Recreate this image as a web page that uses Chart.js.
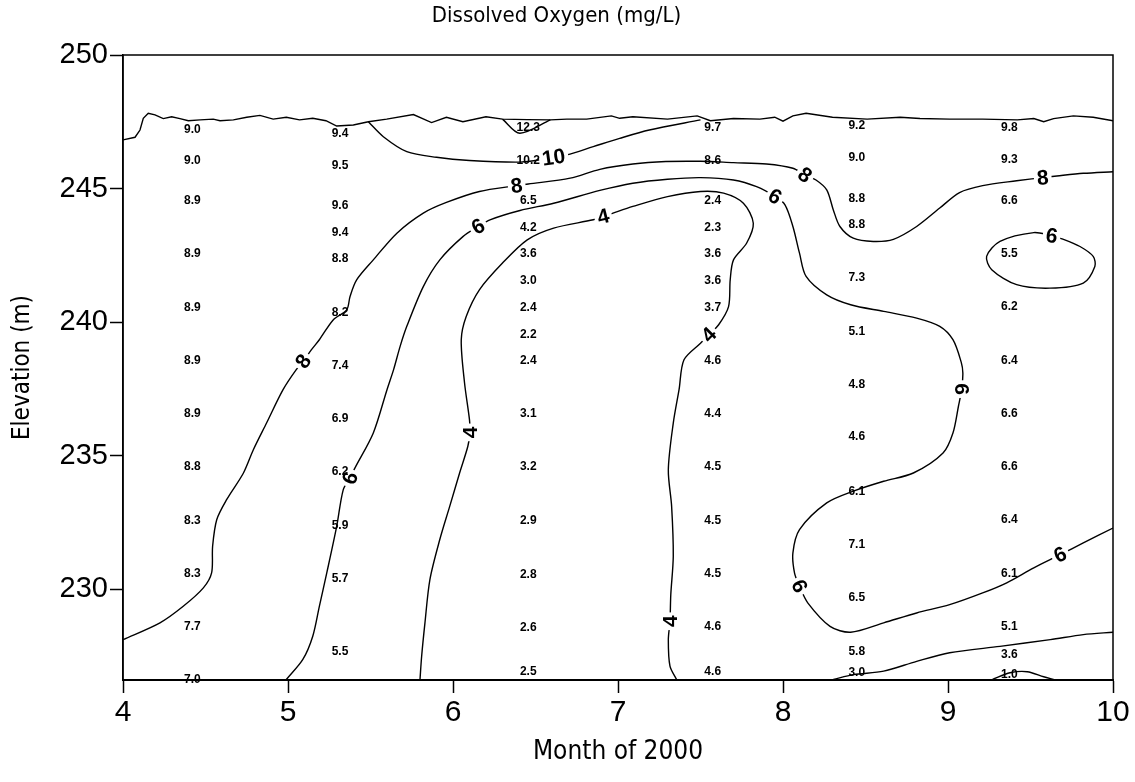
<!DOCTYPE html>
<html>
<head>
<meta charset="utf-8">
<title>Dissolved Oxygen (mg/L)</title>
<script src="https://cdn.jsdelivr.net/npm/chart.js@4.4.0/dist/chart.umd.min.js"></script>
<style>
  html, body { margin: 0; padding: 0; background: #fff; }
</style>
</head>
<body>
<canvas id="doChart" width="1135" height="782"></canvas>
<script>
// ========== AXES ==========
const monthTicks = [4, 5, 6, 7, 8, 9, 10];
const elevTicks = [230, 235, 240, 245, 250];

// ========== PROFILE READINGS (month, elevation, DO) ==========
const monthA = 4.42;
const elevA = [247.22, 246.05, 244.53, 242.56, 240.53, 238.54, 236.57, 234.58, 232.57, 230.57, 228.59, 226.62];
const doA   = [9.0, 9.0, 8.9, 8.9, 8.9, 8.9, 8.9, 8.8, 8.3, 8.3, 7.7, 7.0];

const monthB = 5.315;
const elevB = [247.04, 245.85, 244.35, 243.35, 242.36, 240.34, 238.37, 236.38, 234.39, 232.39, 230.4, 227.65];
const doB   = [9.4, 9.5, 9.6, 9.4, 8.8, 8.2, 7.4, 6.9, 6.2, 5.9, 5.7, 5.5];

const monthC = 6.456;
const elevC = [247.26, 246.05, 244.53, 243.55, 242.56, 241.56, 240.53, 239.51, 238.54, 236.57, 234.58, 232.57, 230.55, 228.56, 226.91];
const doC   = [12.3, 10.2, 6.5, 4.2, 3.6, 3.0, 2.4, 2.2, 2.4, 3.1, 3.2, 2.9, 2.8, 2.6, 2.5];

const monthD = 7.574;
const elevD = [247.26, 246.05, 244.53, 243.55, 242.56, 241.56, 240.53, 238.54, 236.57, 234.58, 232.57, 230.57, 228.59, 226.91];
const doD   = [9.7, 8.6, 2.4, 2.3, 3.6, 3.6, 3.7, 4.6, 4.4, 4.5, 4.5, 4.5, 4.6, 4.6];

const monthE = 8.447;
const elevE = [247.34, 246.16, 244.61, 243.64, 241.67, 239.63, 237.67, 235.7, 233.66, 231.67, 229.7, 227.65, 226.87];
const doE   = [9.2, 9.0, 8.8, 8.8, 7.3, 5.1, 4.8, 4.6, 6.1, 7.1, 6.5, 5.8, 3.0];

const monthF = 9.372;
const elevF = [247.26, 246.07, 244.55, 242.56, 240.56, 238.56, 236.57, 234.58, 232.6, 230.58, 228.59, 227.55, 226.8];
const doF   = [9.8, 9.3, 6.6, 5.5, 6.2, 6.4, 6.6, 6.6, 6.4, 6.1, 5.1, 3.6, 1.0];

// ========== WATER SURFACE & ISOLINES [month, elevation] ==========
const surface = [[4.00,246.82],[4.073,246.92],[4.103,247.19],[4.123,247.63],[4.153,247.82],[4.194,247.76],[4.244,247.62],[4.295,247.69],[4.345,247.62],[4.396,247.54],[4.467,247.57],[4.547,247.6],[4.588,247.54],[4.669,247.57],[4.75,247.67],[4.83,247.74],[4.91,247.6],[4.99,247.67],[5.07,247.57],[5.15,247.63],[5.23,247.54],[5.295,247.34],[5.396,247.38],[5.487,247.5],[5.598,247.6],[5.76,247.77],[5.87,247.47],[5.96,247.67],[6.06,247.5],[6.20,247.69],[6.30,247.6],[6.45,247.58],[6.59,247.57],[6.69,247.6],[6.81,247.6],[6.96,247.72],[7.01,247.63],[7.09,247.69],[7.30,247.6],[7.48,247.72],[7.56,247.54],[7.70,247.62],[7.86,247.6],[7.95,247.67],[8.00,247.52],[8.06,247.72],[8.14,247.82],[8.30,247.67],[8.51,247.6],[8.71,247.67],[8.83,247.62],[9.01,247.6],[9.21,247.6],[9.42,247.57],[9.52,247.62],[9.58,247.5],[9.64,247.62],[9.76,247.72],[9.88,247.67],[10.0,247.54]];

const iso12 = [[6.30,247.6],[6.405,247.07],[6.59,247.57]];

const iso10 = [[5.487,247.5],[5.578,246.94],[5.72,246.38],[5.90,246.17],[6.10,246.05],[6.41,245.99],[6.55,246.1],[6.69,246.26],[6.85,246.57],[7.01,246.88],[7.19,247.19],[7.50,247.57]];

const iso8 = [[4.0,228.11],[4.224,228.74],[4.365,229.36],[4.487,230.05],[4.537,230.61],[4.543,231.6],[4.568,232.6],[4.628,233.35],[4.73,234.35],[4.79,235.22],[4.87,236.22],[4.97,237.47],[5.05,238.22],[5.093,238.53],[5.14,238.95],[5.19,239.34],[5.275,240.09],[5.356,240.46],[5.376,240.96],[5.416,241.58],[5.517,242.33],[5.66,243.33],[5.82,244.08],[5.96,244.48],[6.16,244.89],[6.386,245.11],[6.456,245.17],[6.71,245.39],[6.89,245.72],[7.09,245.92],[7.29,246.01],[7.50,246.02],[7.70,245.97],[7.90,245.92],[8.06,245.76],[8.133,245.51],[8.20,245.32],[8.265,244.95],[8.305,244.2],[8.345,243.58],[8.426,243.14],[8.547,243.02],[8.669,243.1],[8.81,243.58],[8.95,244.27],[9.07,244.85],[9.21,245.11],[9.416,245.29],[9.574,245.41],[9.66,245.47],[9.82,245.57],[10.0,245.63]];

const iso6 = [[4.99,226.62],[5.09,227.37],[5.15,228.24],[5.19,229.36],[5.235,230.61],[5.295,232.35],[5.335,233.73],[5.376,234.16],[5.406,234.54],[5.517,235.85],[5.60,237.47],[5.64,238.22],[5.68,239.1],[5.72,239.84],[5.82,241.33],[5.92,242.33],[6.06,243.2],[6.153,243.58],[6.224,243.83],[6.406,244.18],[6.61,244.45],[6.89,244.93],[7.09,245.2],[7.30,245.35],[7.50,245.41],[7.70,245.32],[7.84,245.07],[7.952,244.7],[8.012,244.39],[8.06,243.58],[8.10,242.58],[8.14,241.71],[8.265,241.02],[8.41,240.65],[8.61,240.4],[8.81,240.15],[8.95,239.84],[9.03,239.34],[9.08,238.5],[9.09,238.09],[9.083,237.49],[9.063,236.84],[9.03,235.85],[8.97,235.1],[8.79,234.35],[8.61,234.04],[8.426,233.67],[8.265,233.23],[8.10,232.23],[8.06,231.36],[8.07,230.6],[8.10,230.11],[8.15,229.49],[8.285,228.61],[8.41,228.39],[8.61,228.74],[8.81,229.11],[9.01,229.42],[9.21,229.86],[9.356,230.24],[9.52,230.8],[9.68,231.29],[9.82,231.73],[10.0,232.29]];

const iso6Pocket = [[9.628,243.23],[9.52,243.35],[9.315,243.02],[9.234,242.46],[9.265,241.96],[9.416,241.4],[9.618,241.27],[9.82,241.46],[9.89,242.08],[9.88,242.46],[9.80,242.83],[9.70,243.1],[9.628,243.23]];

const iso4 = [[5.80,226.62],[5.81,227.49],[5.83,228.74],[5.86,230.36],[5.92,231.86],[5.98,233.1],[6.04,234.35],[6.09,235.35],[6.103,235.87],[6.10,236.34],[6.07,237.72],[6.05,239.34],[6.08,240.21],[6.16,241.21],[6.30,242.21],[6.45,243.08],[6.61,243.52],[6.85,243.83],[6.91,243.95],[6.97,244.08],[7.09,244.33],[7.30,244.7],[7.50,244.89],[7.64,244.83],[7.76,244.45],[7.82,243.7],[7.78,242.96],[7.70,242.33],[7.68,241.58],[7.67,240.58],[7.61,239.9],[7.55,239.52],[7.50,239.21],[7.40,238.59],[7.37,237.47],[7.335,236.22],[7.305,234.47],[7.325,233.1],[7.335,231.23],[7.32,229.8],[7.315,228.8],[7.305,228.11],[7.315,227.12],[7.355,226.62]];

const iso4Bottom = [[8.305,226.62],[8.426,226.8],[8.61,226.93],[8.81,227.3],[9.01,227.62],[9.315,227.86],[9.62,228.11],[9.82,228.3],[10.0,228.39]];

const iso2 = [[9.27,226.62],[9.376,226.87],[9.48,226.91],[9.58,226.72],[9.64,226.62]];

// isoline labels: level, month, elevation, angle (deg)
const levelText  = ['10', '8', '6', '4', '8', '6', '4', '8', '6', '8', '6', '4', '6', '4', '6', '6'];
const levelMonth = [6.61, 6.386, 6.153, 6.91, 5.093, 5.376, 6.103, 8.133, 7.952, 9.574, 9.628, 7.55, 9.083, 7.315, 8.10, 9.68];
const levelElev  = [246.17, 245.11, 243.58, 243.95, 238.53, 234.16, 235.87, 245.51, 244.7, 245.41, 243.23, 239.52, 237.49, 228.8, 230.11, 231.29];
const levelAngle = [-8, -8, -30, -14, -55, -68, -90, 35, 30, -5, 8, -45, 90, -90, 65, -25];

const SANS = '"Liberation Sans", Arial, sans-serif';
const NARROW = '"Liberation Sans Narrow", "Arial Narrow", "DejaVu Sans Condensed", sans-serif';

const toPts = arr => arr.map(p => ({ x: p[0], y: p[1] }));

function lineSet(arr, tension) {
  return {
    type: 'line',
    data: toPts(arr),
    borderColor: '#000',
    borderWidth: 1.4,
    pointRadius: 0,
    fill: false,
    tension: tension
  };
}

function profileSet(month, elevs, values) {
  return {
    type: 'scatter',
    data: elevs.map(e => ({ x: month, y: e })),
    readings: values,
    pointRadius: 0,
    showLine: false
  };
}

// ========== LABEL PLUGIN ==========
const annotate = {
  id: 'annotate',
  afterDatasetsDraw(chart) {
    const { ctx, chartArea: a, scales: { x, y } } = chart;
    ctx.save();

    // level labels: blank out the line underneath, then write the level
    ctx.font = 'bold 21px ' + SANS;
    ctx.textAlign = 'center';
    ctx.textBaseline = 'middle';
    levelText.forEach((t, i) => {
      const px = x.getPixelForValue(levelMonth[i]);
      const py = y.getPixelForValue(levelElev[i]);
      const w = ctx.measureText(t).width + 6;
      ctx.save();
      ctx.translate(px, py);
      ctx.rotate(levelAngle[i] * Math.PI / 180);
      ctx.fillStyle = '#fff';
      ctx.fillRect(-w / 2, -9, w, 18);
      ctx.fillStyle = '#000';
      ctx.fillText(t, 0, 1);
      ctx.restore();
    });

    // DO readings at each sample depth
    ctx.font = 'bold 12px ' + SANS;
    ctx.fillStyle = '#000';
    chart.data.datasets.forEach((ds, di) => {
      if (!ds.readings) return;
      chart.getDatasetMeta(di).data.forEach((pt, j) => {
        ctx.fillText(ds.readings[j].toFixed(1), pt.x, pt.y);
      });
    });

    // frame around the plot
    ctx.strokeStyle = '#000';
    ctx.lineWidth = 1.5;
    ctx.strokeRect(a.left, a.top, a.right - a.left, a.bottom - a.top);
    ctx.restore();
  }
};

// ========== CHART ==========
new Chart(document.getElementById('doChart'), {
  type: 'scatter',
  data: {
    datasets: [
      lineSet(surface, 0),
      lineSet(iso12, 0.3),
      lineSet(iso10, 0.3),
      lineSet(iso8, 0.3),
      lineSet(iso6, 0.3),
      lineSet(iso6Pocket, 0.3),
      lineSet(iso4, 0.3),
      lineSet(iso4Bottom, 0.3),
      lineSet(iso2, 0.3),
      profileSet(monthA, elevA, doA),
      profileSet(monthB, elevB, doB),
      profileSet(monthC, elevC, doC),
      profileSet(monthD, elevD, doD),
      profileSet(monthE, elevE, doE),
      profileSet(monthF, elevF, doF)
    ]
  },
  options: {
    responsive: false,
    animation: false,
    layout: { padding: { left: 0, right: 22, top: 0, bottom: 0 } },
    plugins: {
      legend: { display: false },
      tooltip: { enabled: false },
      title: {
        display: true,
        text: 'Dissolved Oxygen (mg/L)',
        color: '#000',
        font: { family: NARROW, size: 22, weight: 'normal' },
        padding: { top: 3, bottom: 25.6 }
      }
    },
    scales: {
      x: {
        type: 'linear',
        min: 4,
        max: 10,
        afterBuildTicks: s => { s.ticks = monthTicks.map(v => ({ value: v })); },
        afterFit: s => { s.height = 102; },
        ticks: { color: '#000', font: { family: SANS, size: 30 }, padding: 2 },
        grid: { drawOnChartArea: false, tickLength: 13, tickColor: '#000', tickWidth: 1.5 },
        border: { color: '#000', width: 2 },
        title: {
          display: true,
          text: 'Month of 2000',
          color: '#000',
          font: { family: NARROW, size: 26 },
          padding: { top: 0, bottom: 14 }
        }
      },
      y: {
        type: 'linear',
        min: 226.6,
        max: 250,
        afterBuildTicks: s => { s.ticks = elevTicks.map(v => ({ value: v })); },
        afterFit: s => { s.width = 123; },
        ticks: { color: '#000', font: { family: SANS, size: 29 }, padding: 2 },
        grid: { drawOnChartArea: false, tickLength: 13, tickColor: '#000', tickWidth: 1.5 },
        border: { color: '#000', width: 1.5 },
        title: {
          display: true,
          text: 'Elevation (m)',
          color: '#000',
          font: { family: NARROW, size: 24 },
          padding: { top: 8, bottom: 0 }
        }
      }
    }
  },
  plugins: [annotate]
});
</script>
</body>
</html>
